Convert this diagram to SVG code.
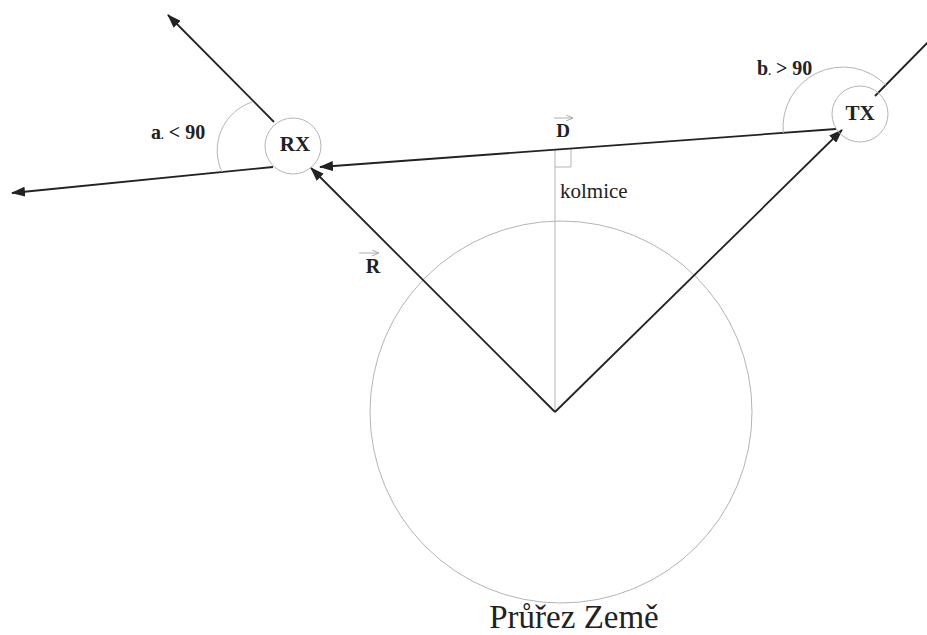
<svg xmlns="http://www.w3.org/2000/svg" width="927" height="635" viewBox="0 0 927 635">
<style>
.thin{fill:none;stroke:#b4b4b4;stroke-width:1}
.arr{fill:none;stroke:#222;stroke-width:1.8}
.lbl{font-family:"Liberation Serif","Times New Roman",serif;font-weight:bold;fill:#222}
.reg{font-family:"Liberation Serif","Times New Roman",serif;fill:#222}
</style>
<defs>
<marker id="ah" markerUnits="userSpaceOnUse" markerWidth="14" markerHeight="10" refX="13" refY="5" orient="auto">
<path d="M0,0 L14,5 L0,10 z" fill="#222"/>
</marker>
<marker id="sa" markerUnits="userSpaceOnUse" markerWidth="7" markerHeight="6" refX="6" refY="3" orient="auto">
<path d="M0,0 L7,3 L0,6" fill="none" stroke="#999" stroke-width="0.8"/>
</marker>
</defs>
<rect width="927" height="635" fill="#fff"/>
<g id="earth">
<circle class="thin" cx="561" cy="412" r="191"/>
<text class="reg" x="574" y="628" font-size="33" text-anchor="middle">Průřez Země</text>
</g>
<g id="perpendicular">
<line class="thin" x1="555" y1="412" x2="555" y2="150"/>
<polyline class="thin" points="555,167 571,167 571,149"/>
<text class="reg" x="560" y="198" font-size="21">kolmice</text>
</g>
<g id="connectors">
<line class="arr" x1="555" y1="412" x2="311" y2="168" marker-end="url(#ah)"/>
<line class="arr" x1="555" y1="412" x2="842" y2="130" marker-end="url(#ah)"/>
<line class="arr" x1="836" y1="129" x2="320" y2="167" marker-end="url(#ah)"/>
<line class="arr" x1="274" y1="122" x2="168" y2="15" marker-end="url(#ah)"/>
<line class="arr" x1="273" y1="167" x2="12" y2="193" marker-end="url(#ah)"/>
<line class="arr" x1="875" y1="96" x2="935" y2="35"/>
</g>
<g id="angle-a">
<path class="thin" d="M252,102 A51,51 0 0 0 222,172"/>
<text class="lbl" x="151" y="139" font-size="20">a<tspan font-size="11">.</tspan> &lt; 90</text>
</g>
<g id="angle-b">
<path class="thin" d="M885.8,85 A60,60 0 0 0 783.3,133"/>
<text class="lbl" x="757" y="75" font-size="20">b<tspan font-size="11">.</tspan> &gt; 90</text>
</g>
<g id="RX">
<circle class="thin" cx="293" cy="146" r="28" fill="#fff"/>
<text class="lbl" x="295" y="151" font-size="21" text-anchor="middle">RX</text>
</g>
<g id="TX">
<circle class="thin" cx="860" cy="114" r="28" fill="#fff"/>
<text class="lbl" x="860" y="120" font-size="21" text-anchor="middle">TX</text>
</g>
<g id="vector-D">
<line x1="554" y1="118" x2="572" y2="118" stroke="#999" stroke-width="0.8" marker-end="url(#sa)"/>
<text class="lbl" x="563" y="137" font-size="19" text-anchor="middle">D</text>
</g>
<g id="vector-R">
<line x1="359" y1="253" x2="378" y2="253" stroke="#999" stroke-width="0.8" marker-end="url(#sa)"/>
<text class="lbl" x="373" y="273" font-size="20" text-anchor="middle">R</text>
</g>
</svg>
